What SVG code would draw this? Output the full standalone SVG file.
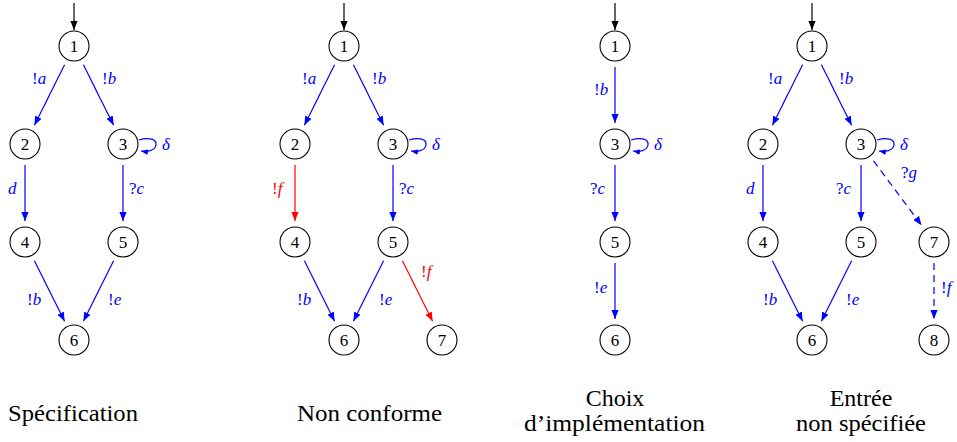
<svg xmlns="http://www.w3.org/2000/svg" width="957" height="442" viewBox="0 0 957 442" font-family="Liberation Serif, DejaVu Serif, serif">
<style>
.n circle{fill:#fff;stroke:#000;stroke-width:1.1}
.n text{font-size:17px;text-anchor:middle;fill:#000}
.e{fill:none;stroke-width:1.2}
.b{stroke:#0000ff;marker-end:url(#ab)}
.r{stroke:#ff0000;marker-end:url(#ar)}
.k{stroke:#000;marker-end:url(#ak)}
.d{stroke-dasharray:7,5}
.lp{marker-end:url(#abs)}
.l{font-size:17px;fill:#0000ff}
.lr{fill:#ff0000}
.i{font-style:italic}
.t{font-size:24px;fill:#000}
</style>
<defs>
<marker id="ab" viewBox="0 0 10 8" refX="10" refY="4" markerWidth="9" markerHeight="7.2" markerUnits="userSpaceOnUse" orient="auto"><path d="M0,0 L10,4 L0,8 z" fill="#0000ff"/></marker>
<marker id="abs" viewBox="0 0 10 8" refX="10" refY="4" markerWidth="7" markerHeight="5.6" markerUnits="userSpaceOnUse" orient="auto"><path d="M0,0 L10,4 L0,8 z" fill="#0000ff"/></marker>
<marker id="ar" viewBox="0 0 10 8" refX="10" refY="4" markerWidth="9" markerHeight="7.2" markerUnits="userSpaceOnUse" orient="auto"><path d="M0,0 L10,4 L0,8 z" fill="#ff0000"/></marker>
<marker id="ak" viewBox="0 0 10 8" refX="10" refY="4" markerWidth="9" markerHeight="7.2" markerUnits="userSpaceOnUse" orient="auto"><path d="M0,0 L10,4 L0,8 z" fill="#000"/></marker>
</defs>

<g id="connectors">
<!-- Panel 1 -->
<path class="e k" d="M74,3 L74,30"/>
<path class="e b" d="M64.6,64.8 L34.4,125.2"/>
<path class="e b" d="M83.4,64.8 L113.6,125.2"/>
<path class="e b" d="M25,165 L25,221"/>
<path class="e b" d="M123,165 L123,221"/>
<path class="e b" d="M34.4,260.8 L64.6,321.2"/>
<path class="e b" d="M113.6,260.8 L83.4,321.2"/>
<path class="e b lp" d="M139,140 C149,137 157,139 156,145 C155,151 147,152 141,151"/>
<!-- Panel 2 -->
<path class="e k" d="M344,3 L344,30"/>
<path class="e b" d="M334.6,64.8 L304.4,125.2"/>
<path class="e b" d="M353.4,64.8 L383.6,125.2"/>
<path class="e r" d="M295,165 L295,221"/>
<path class="e b" d="M393,165 L393,221"/>
<path class="e b" d="M304.4,260.8 L334.6,321.2"/>
<path class="e b" d="M383.6,260.8 L353.4,321.2"/>
<path class="e r" d="M402.4,260.8 L432.6,321.2"/>
<path class="e b lp" d="M409,140 C419,137 427,139 426,145 C425,151 417,152 411,151"/>
<!-- Panel 3 -->
<path class="e k" d="M615,3 L615,30"/>
<path class="e b" d="M615,67 L615,123"/>
<path class="e b" d="M615,165 L615,221"/>
<path class="e b" d="M615,263 L615,319"/>
<path class="e b lp" d="M631,140 C641,137 649,139 648,145 C647,151 639,152 633,151"/>
<!-- Panel 4 -->
<path class="e k" d="M812,3 L812,30"/>
<path class="e b" d="M802.6,64.8 L772.4,125.2"/>
<path class="e b" d="M821.4,64.8 L851.6,125.2"/>
<path class="e b" d="M763,165 L763,221"/>
<path class="e b" d="M861,165 L861,221"/>
<path class="e b" d="M772.4,260.8 L802.6,321.2"/>
<path class="e b" d="M851.6,260.8 L821.4,321.2"/>
<path class="e b d" d="M873.5,160.8 L921.5,225.2"/>
<path class="e b d" d="M934,263 L934,319"/>
<path class="e b lp" d="M877,140 C887,137 895,139 894,145 C893,151 885,152 879,151"/>
</g>

<g id="edge-labels">
<text class="l" x="32" y="84">!<tspan class="i">a</tspan></text>
<text class="l" x="102" y="84">!<tspan class="i">b</tspan></text>
<text class="l i" x="8" y="194">d</text>
<text class="l" x="129" y="194">?<tspan class="i">c</tspan></text>
<text class="l" x="27" y="305">!<tspan class="i">b</tspan></text>
<text class="l" x="108" y="305">!<tspan class="i">e</tspan></text>
<text class="l i" x="162" y="150">δ</text>

<text class="l" x="302" y="84">!<tspan class="i">a</tspan></text>
<text class="l" x="372" y="84">!<tspan class="i">b</tspan></text>
<text class="l lr" x="272" y="194">!<tspan class="i">f</tspan></text>
<text class="l" x="399" y="194">?<tspan class="i">c</tspan></text>
<text class="l" x="297" y="305">!<tspan class="i">b</tspan></text>
<text class="l" x="379" y="305">!<tspan class="i">e</tspan></text>
<text class="l lr" x="421" y="277">!<tspan class="i">f</tspan></text>
<text class="l i" x="432" y="150">δ</text>

<text class="l" x="594" y="95">!<tspan class="i">b</tspan></text>
<text class="l" x="590" y="194">?<tspan class="i">c</tspan></text>
<text class="l" x="594" y="293">!<tspan class="i">e</tspan></text>
<text class="l i" x="654" y="150">δ</text>

<text class="l" x="768" y="84">!<tspan class="i">a</tspan></text>
<text class="l" x="839" y="84">!<tspan class="i">b</tspan></text>
<text class="l i" x="746" y="194">d</text>
<text class="l" x="836" y="194">?<tspan class="i">c</tspan></text>
<text class="l" x="901" y="178">?<tspan class="i">g</tspan></text>
<text class="l" x="763" y="305">!<tspan class="i">b</tspan></text>
<text class="l" x="846" y="305">!<tspan class="i">e</tspan></text>
<text class="l" x="941" y="293">!<tspan class="i">f</tspan></text>
<text class="l i" x="900" y="150">δ</text>
</g>

<!-- Panel 1 nodes -->
<g id="p1-n1" class="n"><circle cx="74" cy="46" r="15"/><text x="74" y="52">1</text></g>
<g id="p1-n2" class="n"><circle cx="25" cy="144" r="15"/><text x="25" y="150">2</text></g>
<g id="p1-n3" class="n"><circle cx="123" cy="144" r="15"/><text x="123" y="150">3</text></g>
<g id="p1-n4" class="n"><circle cx="25" cy="242" r="15"/><text x="25" y="248">4</text></g>
<g id="p1-n5" class="n"><circle cx="123" cy="242" r="15"/><text x="123" y="248">5</text></g>
<g id="p1-n6" class="n"><circle cx="74" cy="340" r="15"/><text x="74" y="346">6</text></g>
<!-- Panel 2 nodes -->
<g id="p2-n1" class="n"><circle cx="344" cy="46" r="15"/><text x="344" y="52">1</text></g>
<g id="p2-n2" class="n"><circle cx="295" cy="144" r="15"/><text x="295" y="150">2</text></g>
<g id="p2-n3" class="n"><circle cx="393" cy="144" r="15"/><text x="393" y="150">3</text></g>
<g id="p2-n4" class="n"><circle cx="295" cy="242" r="15"/><text x="295" y="248">4</text></g>
<g id="p2-n5" class="n"><circle cx="393" cy="242" r="15"/><text x="393" y="248">5</text></g>
<g id="p2-n6" class="n"><circle cx="344" cy="340" r="15"/><text x="344" y="346">6</text></g>
<g id="p2-n7" class="n"><circle cx="442" cy="340" r="15"/><text x="442" y="346">7</text></g>
<!-- Panel 3 nodes -->
<g id="p3-n1" class="n"><circle cx="615" cy="46" r="15"/><text x="615" y="52">1</text></g>
<g id="p3-n3" class="n"><circle cx="615" cy="144" r="15"/><text x="615" y="150">3</text></g>
<g id="p3-n5" class="n"><circle cx="615" cy="242" r="15"/><text x="615" y="248">5</text></g>
<g id="p3-n6" class="n"><circle cx="615" cy="340" r="15"/><text x="615" y="346">6</text></g>
<!-- Panel 4 nodes -->
<g id="p4-n1" class="n"><circle cx="812" cy="46" r="15"/><text x="812" y="52">1</text></g>
<g id="p4-n2" class="n"><circle cx="763" cy="144" r="15"/><text x="763" y="150">2</text></g>
<g id="p4-n3" class="n"><circle cx="861" cy="144" r="15"/><text x="861" y="150">3</text></g>
<g id="p4-n4" class="n"><circle cx="763" cy="242" r="15"/><text x="763" y="248">4</text></g>
<g id="p4-n5" class="n"><circle cx="861" cy="242" r="15"/><text x="861" y="248">5</text></g>
<g id="p4-n6" class="n"><circle cx="812" cy="340" r="15"/><text x="812" y="346">6</text></g>
<g id="p4-n7" class="n"><circle cx="934" cy="242" r="15"/><text x="934" y="248">7</text></g>
<g id="p4-n8" class="n"><circle cx="934" cy="340" r="15"/><text x="934" y="346">8</text></g>

<g id="captions">
<text class="t" x="8" y="421" textLength="130" lengthAdjust="spacingAndGlyphs">Spécification</text>
<text class="t" x="297" y="421" textLength="145" lengthAdjust="spacingAndGlyphs">Non conforme</text>
<text class="t" x="615" y="406" text-anchor="middle">Choix</text>
<text class="t" x="524" y="431" textLength="181" lengthAdjust="spacingAndGlyphs">d’implémentation</text>
<text class="t" x="861" y="406" text-anchor="middle">Entrée</text>
<text class="t" x="796" y="431" textLength="130" lengthAdjust="spacingAndGlyphs">non spécifiée</text>
</g>
</svg>
